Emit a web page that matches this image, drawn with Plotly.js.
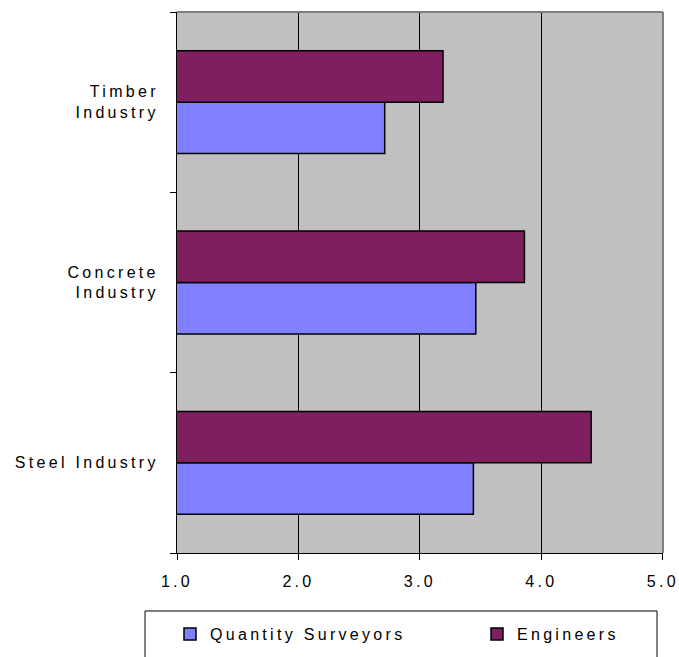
<!DOCTYPE html>
<html>
<head>
<meta charset="utf-8">
<script src="https://cdn.plot.ly/plotly-3.0.1.min.js"></script>
<style>
  html, body { margin: 0; padding: 0; background: #fff; }
  #chart { width: 679px; height: 657px; }
  /* wide letter spacing used for all chart text (also while Plotly measures it) */
  .xtick text, .ytick text, .legendtext, .infolayer text, #js-plotly-tester text {
    letter-spacing: 3.3px;
  }
  /* legend entries are sized with the spaced text; never clip them */
  .infolayer g, .infolayer g * { clip-path: none !important; }
</style>
</head>
<body>
<div id="chart"></div>
<script>
// Mean ratings by industry, bottom to top
const categories = ['Steel Industry', 'Concrete Industry', 'Timber Industry'];
const tickLabels = ['Steel Industry', 'Concrete<br>Industry', 'Timber<br>Industry'];
const quantitySurveyors = [3.44, 3.46, 2.71];
const engineers = [4.41, 3.86, 3.19];
const xTickVals = [1, 2, 3, 4, 5];
const xTickText = ['1.0', '2.0', '3.0', '4.0', '5.0'];

const FONT = 'Arial, "Liberation Sans", sans-serif';

const traces = [
  {
    type: 'bar',
    orientation: 'h',
    name: 'Quantity Surveyors',
    y: tickLabels,
    x: quantitySurveyors,
    legend: 'legend',
    marker: { color: '#8080FF', line: { color: '#000000', width: 1.5 } },
    hoverinfo: 'x+name'
  },
  {
    type: 'bar',
    orientation: 'h',
    name: 'Engineers',
    y: tickLabels,
    x: engineers,
    legend: 'legend2',
    marker: { color: '#7F1F5F', line: { color: '#000000', width: 1.5 } },
    hoverinfo: 'x+name'
  }
];

// shared legend styling; each series gets its own legend box in one row
function legendAt(xPx) {
  return {
    orientation: 'h',
    xref: 'container',
    yref: 'container',
    x: xPx / 679,
    xanchor: 'left',
    y: 0.035,
    yanchor: 'middle',
    bgcolor: 'rgba(0,0,0,0)',
    borderwidth: 0,
    font: { family: FONT, size: 16, color: '#000000' }
  };
}

const layout = {
  width: 679,
  height: 657,
  margin: { l: 177, r: 16, t: 12, b: 104, pad: 0, autoexpand: false },
  paper_bgcolor: '#ffffff',
  plot_bgcolor: '#C0C0C0',
  font: { family: FONT, size: 16, color: '#000000' },
  barmode: 'group',
  bargap: 0.43,
  bargroupgap: 0,
  showlegend: true,
  xaxis: {
    range: [1, 5.001],
    tickmode: 'array',
    tickvals: xTickVals,
    ticktext: xTickText,
    showgrid: true,
    gridcolor: '#000000',
    gridwidth: 1,
    zeroline: false,
    showline: true,
    linecolor: '#000000',
    linewidth: 1,
    ticks: 'outside',
    ticklen: 6,
    tickcolor: '#000000',
    ticklabelstandoff: 8,
    tickfont: { family: FONT, size: 16, color: '#000000' },
    automargin: false,
    fixedrange: true
  },
  yaxis: {
    type: 'category',
    categoryorder: 'array',
    categoryarray: tickLabels,
    showgrid: false,
    zeroline: false,
    showline: true,
    linecolor: '#000000',
    linewidth: 1,
    ticks: 'outside',
    tickson: 'boundaries',
    ticklen: 6,
    tickcolor: '#000000',
    ticklabelstandoff: 14,
    tickfont: { family: FONT, size: 16, color: '#000000' },
    automargin: false,
    fixedrange: true
  },
  legend: legendAt(170),
  legend2: legendAt(477),
  shapes: [
    // grey frame on the top and right edges of the plot area
    { type: 'line', xref: 'paper', yref: 'paper', x0: 0, x1: 1, y0: 1, y1: 1,
      line: { color: '#808080', width: 2 }, layer: 'above' },
    { type: 'line', xref: 'paper', yref: 'paper', x0: 1, x1: 1, y0: 0, y1: 1,
      line: { color: '#808080', width: 2 }, layer: 'above' },
    // legend frame
    { type: 'rect', xref: 'paper', yref: 'paper',
      x0: -0.0658, x1: 0.9877, y0: -0.1072, y1: -0.26,
      line: { color: '#000000', width: 1 }, fillcolor: 'rgba(0,0,0,0)', layer: 'above' }
  ]
};

Plotly.newPlot('chart', traces, layout, { displayModeBar: false, staticPlot: true });
</script>
</body>
</html>
